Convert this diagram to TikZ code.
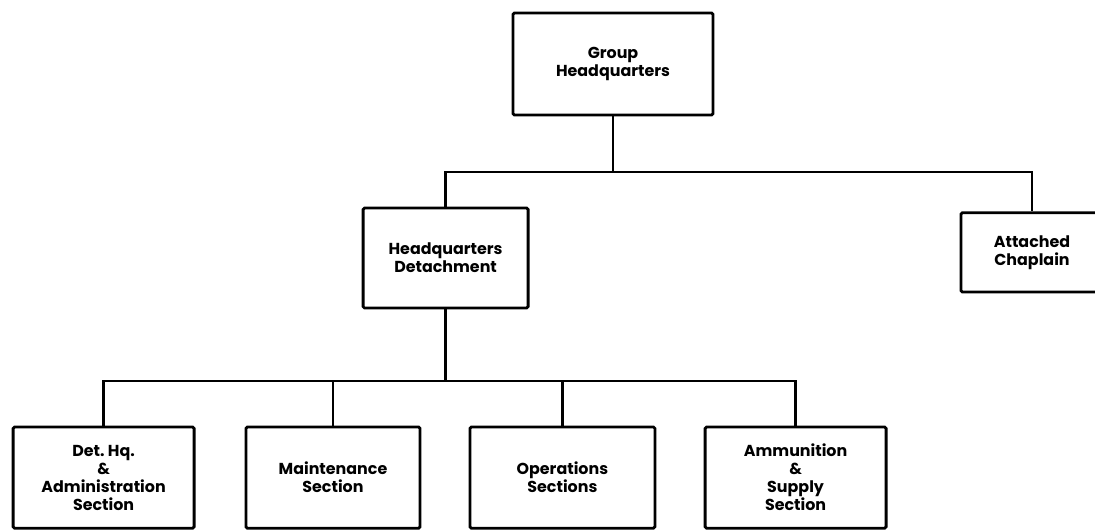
\documentclass[tikz,border=0pt]{standalone}
\usepackage{fontspec}
\setmainfont{Poppins}
\begin{document}
\begin{tikzpicture}[
            x=1cm,
            y=1cm,
            orgbox/.style={draw, line width=2pt, rounded corners=1pt, align=center, inner sep=2pt,
                font=\fontsize{11.3}{12.8}\selectfont\bfseries},
            conn/.style={draw, line width=2pt}
        ]
        \clip (0,0) rectangle (27.375,-13.25);
        \node[orgbox, minimum width=5.0cm, minimum height=2.55cm] (ghq) at (15.325,-1.6) {Group\\Headquarters};
        \node[orgbox, minimum width=4.125cm, minimum height=2.5cm] (hqd) at (11.14,-6.45) {Headquarters\\Detachment};
        \node[orgbox, minimum width=3.55cm, minimum height=1.98cm] (chap) at (25.8,-6.31) {Attached\\Chaplain};
        \node[orgbox, minimum width=4.525cm, minimum height=2.53cm] (det) at (2.59,-11.94) {Det.\ Hq.\\\&\\Administration\\Section};
        \node[orgbox, minimum width=4.35cm, minimum height=2.53cm] (maint) at (8.325,-11.94) {Maintenance\\Section};
        \node[orgbox, minimum width=4.625cm, minimum height=2.53cm] (ops) at (14.06,-11.94) {Operations\\Sections};
        \node[orgbox, minimum width=4.525cm, minimum height=2.53cm] (ammo) at (19.89,-11.94) {Ammunition\\\&\\Supply\\Section};
        % upper bar
        \coordinate (bar1) at (ghq.south |- 0,-4.3);
        \draw[conn] (ghq.south) -- (bar1);
        \draw[conn] (hqd.north) |- (bar1) -| (chap.north);
        % lower bar
        \coordinate (bar2) at (hqd.south |- 0,-9.525);
        \draw[conn] (hqd.south) -- (bar2);
        \draw[conn] (det.north) |- (bar2) -| (ammo.north);
        \draw[conn] (maint.north) -- (maint.north |- bar2);
        \draw[conn] (ops.north) -- (ops.north |- bar2);
    \end{tikzpicture}
\end{document}
